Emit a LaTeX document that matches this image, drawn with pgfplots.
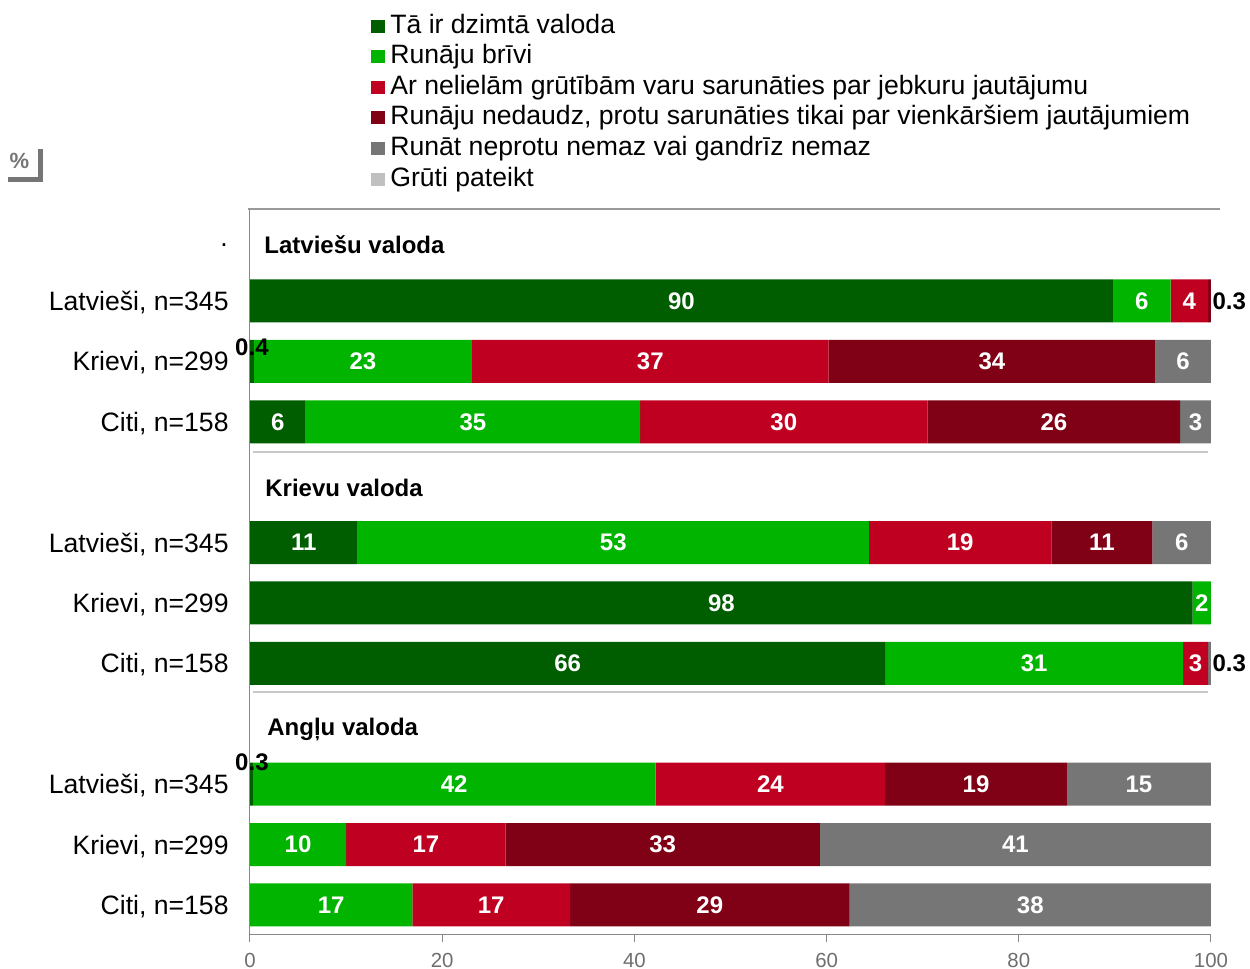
\documentclass[border=0pt]{standalone}
\usepackage{pgfplots}
\pgfplotsset{compat=1.18}
\usepackage{pgfplotstable}
\usepackage{fontspec}
\setmainfont{Liberation Sans}
\definecolor{dkgreen}{RGB}{0,94,0}
\definecolor{ltgreen}{RGB}{0,180,0}
\definecolor{myred}{RGB}{192,0,32}
\definecolor{dkred}{RGB}{128,0,22}
\definecolor{mygray}{RGB}{118,118,118}
\definecolor{ltgray}{RGB}{192,192,192}
\definecolor{axgray}{RGB}{136,136,136}
\definecolor{topgray}{RGB}{153,153,153}
\definecolor{sepgray}{RGB}{200,200,200}
\definecolor{tickgray}{RGB}{110,110,110}

% columns: y = row position, x = share in %, lab = printed label
\pgfplotstableread{
y x lab
10 89.8 90
9 0.4 {}
8 5.8 6
6 11.2 11
5 98.1 98
4 66.1 66
2 0.3 {}
1 0 {}
0 0 {}
}\sA
\pgfplotstableread{
y x lab
10 6.0 6
9 22.7 23
8 34.8 35
6 53.2 53
5 1.9 2
4 31.0 31
2 41.9 42
1 10.0 10
0 16.9 17
}\sB
\pgfplotstableread{
y x lab
10 3.9 4
9 37.1 37
8 29.9 30
6 19.0 19
5 0 {}
4 2.6 3
2 23.9 24
1 16.6 17
0 16.4 17
}\sC
\pgfplotstableread{
y x lab
10 0.3 {}
9 34.0 34
8 26.3 26
6 10.5 11
5 0 {}
4 0 {}
2 18.9 19
1 32.7 33
0 29.1 29
}\sD
\pgfplotstableread{
y x lab
10 0 {}
9 5.8 6
8 3.2 3
6 6.1 6
5 0 {}
4 0.3 {}
2 15.0 15
1 40.7 41
0 37.6 38
}\sE

\begin{document}
\begin{tikzpicture}
\begin{axis}[
  at={(0,0)}, anchor=south west,
  scale only axis, width=480.5pt, height=363pt,
  xbar stacked, bar width=0.712,
  xmin=0, xmax=100, ymin=-0.497, ymax=11.523,
  enlargelimits=false, clip=false,
  axis line style={draw=none},
  xtick={0,20,...,100}, xtick pos=bottom, tick align=outside,
  major tick length=3.5pt,
  xtick style={color=axgray, line width=0.5pt},
  xticklabel style={font=\fontsize{10.2}{12}\selectfont, text=tickgray, yshift=-2pt},
  /pgf/number format/assume math mode=true,
  ytick={0,1,2,4,5,6,8,9,10},
  yticklabels={{Citi, n=158},{Krievi, n=299},{Latvieši, n=345},{Citi, n=158},{Krievi, n=299},{Latvieši, n=345},{Citi, n=158},{Krievi, n=299},{Latvieši, n=345}},
  ytick style={draw=none},
  yticklabel style={font=\fontsize{13.3}{16}\selectfont, inner sep=0pt, xshift=-7pt, yshift=-0.8pt},
  point meta=explicit symbolic,
  nodes near coords,
  every node near coord/.append style={anchor=center, text=white,
     font=\fontsize{12}{14}\selectfont\bfseries},
  legend image code/.code={\fill[#1,draw=none] (0pt,-3.25pt) rectangle (7pt,3.25pt); \path (9.5pt,0pt);},
  legend cell align=left,
  legend style={at={(axis description cs:0.1259,1.2730)}, anchor=north west,
     draw=none, fill=none, inner sep=0pt, outer sep=0pt, row sep=0pt, column sep=0pt,
     font=\fontsize{13.3}{15}\selectfont,
     nodes={inner sep=0pt, outer sep=0pt, text height=11.2pt, text depth=4.1pt, anchor=west}},
]
\addplot[fill=dkgreen, draw=none] table[x=x, y=y, meta=lab] {\sA};
\addlegendentry{Tā ir dzimtā valoda}
\addplot[fill=ltgreen, draw=none] table[x=x, y=y, meta=lab] {\sB};
\addlegendentry{Runāju brīvi}
\addplot[fill=myred, draw=none] table[x=x, y=y, meta=lab] {\sC};
\addlegendentry{Ar nelielām grūtībām varu sarunāties par jebkuru jautājumu}
\addplot[fill=dkred, draw=none] table[x=x, y=y, meta=lab] {\sD};
\addlegendentry{Runāju nedaudz, protu sarunāties tikai par vienkāršiem jautājumiem}
\addplot[fill=mygray, draw=none] table[x=x, y=y, meta=lab] {\sE};
\addlegendentry{Runāt neprotu nemaz vai gandrīz nemaz}
\addlegendimage{fill=ltgray}
\addlegendentry{Grūti pateikt}

% group separators
\draw[sepgray, line width=1pt] (axis cs:0.3,7.5) -- (axis cs:99.7,7.5);
\draw[sepgray, line width=1pt] (axis cs:0.3,3.526) -- (axis cs:99.7,3.526);
% group headings
\node[anchor=base west, inner sep=0pt, font=\fontsize{12}{14}\selectfont\bfseries] at (axis cs:1.46,10.786) {Latviešu valoda};
\node[anchor=base west, inner sep=0pt, font=\fontsize{12}{14}\selectfont\bfseries] at (axis cs:1.56,6.763) {Krievu valoda};
\node[anchor=base west, inner sep=0pt, font=\fontsize{12}{14}\selectfont\bfseries] at (axis cs:1.77,2.806) {Angļu valoda};
\node[anchor=base, inner sep=0pt, font=\fontsize{13.3}{16}\selectfont, xshift=-13pt] at (axis cs:0,10.902) {.};
% anchors for small values written outside the bars
\coordinate (Ra) at (axis cs:100,10);
\coordinate (Rb) at (axis cs:100,4);
\coordinate (La) at (axis cs:0.2,9.232);
\coordinate (Lb) at (axis cs:0.2,2.37);
\end{axis}
% axis lines
\draw[axgray, line width=0.5pt] (0,0) -- (0,363pt);
\draw[axgray, line width=0.5pt] (0,0) -- (480.5pt,0);
\draw[topgray, line width=1pt] (-1pt,363pt) -- (485pt,363pt);
% small values
\node[anchor=west, inner sep=0pt, xshift=0.6pt, font=\fontsize{12}{14}\selectfont\bfseries] at (Ra) {0.3};
\node[anchor=west, inner sep=0pt, xshift=0.6pt, font=\fontsize{12}{14}\selectfont\bfseries] at (Rb) {0.3};
\node[anchor=center, inner sep=0pt, font=\fontsize{12}{14}\selectfont\bfseries] at (La) {0.4};
\node[anchor=center, inner sep=0pt, font=\fontsize{12}{14}\selectfont\bfseries] at (Lb) {0.3};
% percent sign box
\node[font=\fontsize{11}{13}\selectfont\bfseries, text=mygray, inner sep=0pt] at (-115.25pt,387pt) {\%};
\fill[mygray] (-106.15pt,376.65pt) rectangle (-103.65pt,393pt);
\fill[mygray] (-121pt,376.65pt) rectangle (-103.65pt,379.15pt);
\pgfresetboundingbox
\path (-125pt,-17pt) rectangle (500pt,467.5pt);
\end{tikzpicture}
\end{document}
